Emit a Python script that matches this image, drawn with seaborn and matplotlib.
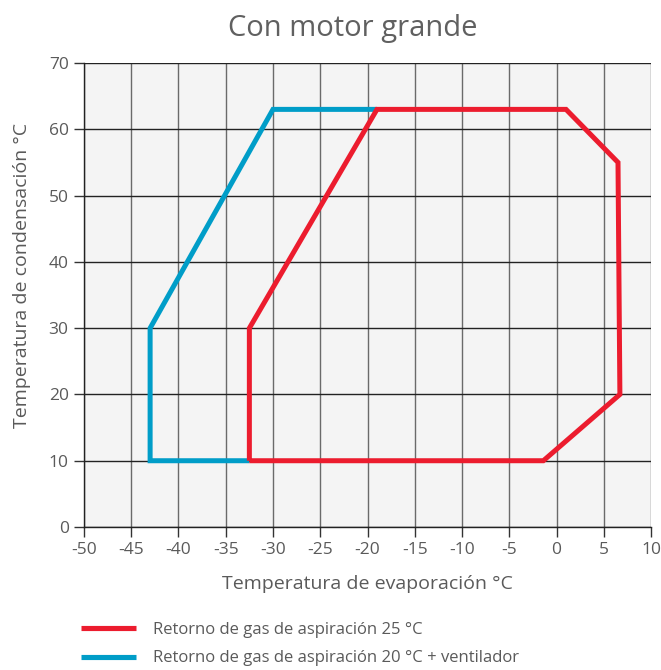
import matplotlib
matplotlib.use("Agg")
import matplotlib.pyplot as plt
import pandas as pd
import seaborn as sns

# Operating envelope, suction gas return 25 °C (closed polygon)
red_evap = [-32.5, -32.5, -19.0, 1.0, 6.5, 6.7, -1.4, -32.5]
red_cond = [10, 30, 63, 63, 55, 20, 10, 10]

# Extension with suction gas return 20 °C + fan (open polyline)
blue_evap = [-32.5, -43.0, -43.0, -30.0, -19.0]
blue_cond = [10, 10, 30, 63, 63]

x_ticks = list(range(-50, 11, 5))
y_ticks = list(range(0, 71, 10))

label_red = "Retorno de gas de aspiración 25 °C"
label_blue = "Retorno de gas de aspiración 20 °C + ventilador"

RED = "#ec1c2e"
BLUE = "#009dc8"
TEXT = "#5a5a5a"

sns.set_theme(style="white")
plt.rcParams["font.family"] = ["Open Sans", "DejaVu Sans"]

fig = plt.figure(figsize=(6.61, 6.70), dpi=100)
ax = fig.add_axes([0.127, 0.2134, 0.858, 0.6926])
ax.set_facecolor("#f4f4f4")

df_red = pd.DataFrame({"evap": red_evap, "cond": red_cond})
df_blue = pd.DataFrame({"evap": blue_evap, "cond": blue_cond})

sns.lineplot(data=df_red, x="evap", y="cond", sort=False, estimator=None,
             color=RED, linewidth=3.6, ax=ax, zorder=4,
             solid_joinstyle="miter", solid_capstyle="butt")
sns.lineplot(data=df_blue, x="evap", y="cond", sort=False, estimator=None,
             color=BLUE, linewidth=3.6, ax=ax, zorder=3,
             solid_joinstyle="miter", solid_capstyle="butt")

ax.set_xlim(-50, 10)
ax.set_ylim(0, 70)
ax.set_xticks(x_ticks)
ax.set_yticks(y_ticks)
ax.set_xticklabels([str(v) for v in x_ticks])
ax.set_yticklabels([str(v) for v in y_ticks])

# grid: vertical lines mid grey, horizontal lines dark
for xv in x_ticks:
    ax.axvline(xv, color="#6a6a6a", linewidth=1.0, zorder=1)
for yv in y_ticks:
    ax.axhline(yv, color="#222222", linewidth=1.0, zorder=1)

for side in ["top", "right"]:
    ax.spines[side].set_visible(False)
for side in ["left", "bottom"]:
    ax.spines[side].set_color("#222222")
    ax.spines[side].set_linewidth(1.0)

ax.tick_params(axis="both", which="both", direction="out", length=7, width=1,
               color="#333333", labelcolor=TEXT, labelsize=12.5, pad=4,
               bottom=True, left=True)

ax.set_xlabel("Temperatura de evaporación °C", color=TEXT, fontsize=14, labelpad=12)
ax.set_ylabel("Temperatura de condensación °C", color=TEXT, fontsize=14)
ax.yaxis.set_label_coords(-0.094, 0.543)

fig.text(0.534, 0.957, "Con motor grande", ha="center", va="center",
         color="#606060", fontsize=21)

handles = [plt.Line2D([], [], color=RED, linewidth=3.7, solid_capstyle="butt"),
           plt.Line2D([], [], color=BLUE, linewidth=3.7, solid_capstyle="butt")]
fig.legend(handles, [label_red, label_blue], loc="lower left",
           bbox_to_anchor=(0.100, -0.017), frameon=False, fontsize=12,
           labelcolor=TEXT, handlelength=3.3, handletextpad=1.0,
           labelspacing=0.75)

fig.savefig("out.png", dpi=100)
